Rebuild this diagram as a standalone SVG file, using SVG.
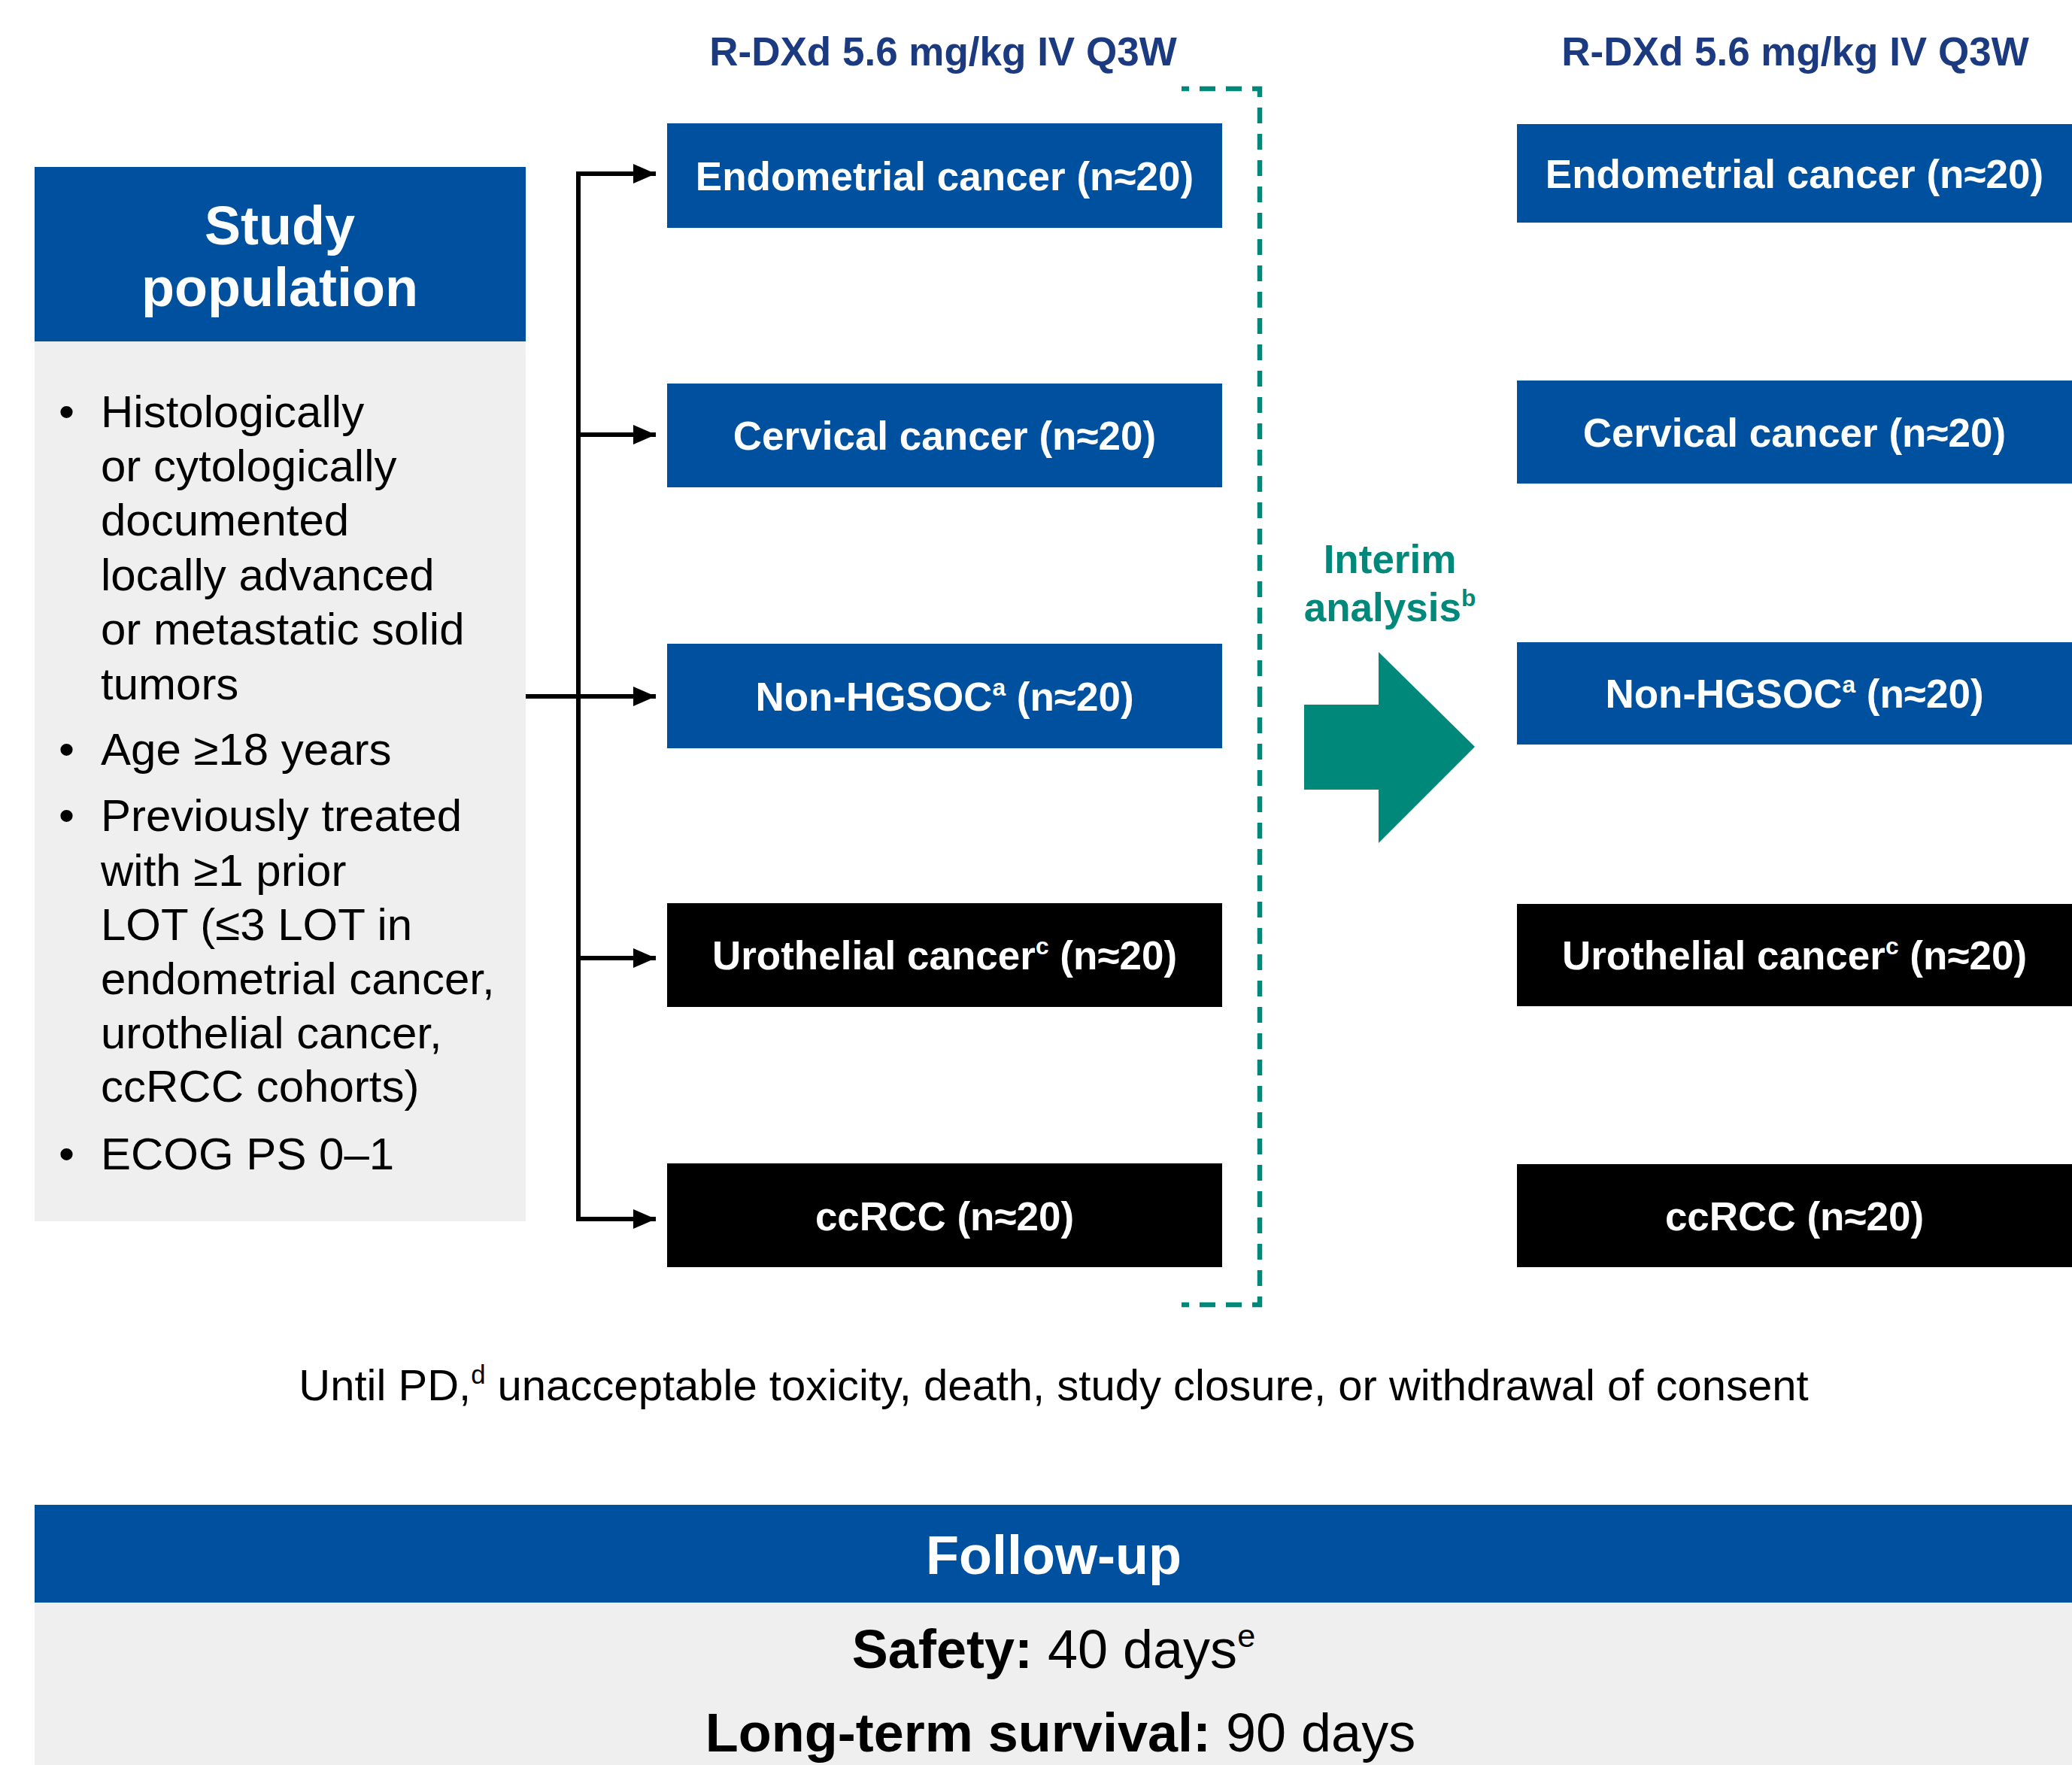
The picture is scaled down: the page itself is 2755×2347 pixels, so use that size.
<svg xmlns="http://www.w3.org/2000/svg" width="2755" height="2347" viewBox="0 0 2755 2347">
<defs>
<style>
text{font-family:"Liberation Sans",Arial,sans-serif}
.hdr{fill:#0050A0}
.grey{fill:#EFEFEF}
.blk{fill:#000}
.bt{font-size:53px;font-weight:bold;fill:#fff;text-anchor:middle}
.ttl{font-size:53px;font-weight:bold;fill:#1B3A80;text-anchor:middle}
.bul{font-size:60px;fill:#000}
.sup{font-size:60%}
.teal{fill:#00897B}
.conn{stroke:#000;stroke-width:6;fill:none}
.dash{fill:none;stroke:#00897B;stroke-width:6.5;stroke-dasharray:21 14;stroke-dashoffset:11}
</style>
<marker id="ah" markerUnits="userSpaceOnUse" markerWidth="32" markerHeight="26" refX="30" refY="13" orient="auto">
<path d="M0,0 L30,13 L0,26 Z" fill="#000"/>
</marker>
</defs>
<rect width="2755" height="2347" fill="#fff"/>

<g id="titles">
<text class="ttl" x="1254" y="87">R-DXd 5.6 mg/kg IV Q3W</text>
<text class="ttl" x="2387" y="87">R-DXd 5.6 mg/kg IV Q3W</text>
</g>

<g id="study-population">
<rect class="hdr" x="46" y="222" width="653" height="232"/>
<rect class="grey" x="46" y="454" width="653" height="1170"/>
<text x="372" y="325" font-size="72" font-weight="bold" fill="#fff" text-anchor="middle">Study</text>
<text x="372" y="407" font-size="72" font-weight="bold" fill="#fff" text-anchor="middle">population</text>
<g class="bul">
<text x="78" y="568">•</text>
<text x="134" y="568">Histologically</text>
<text x="134" y="640">or cytologically</text>
<text x="134" y="712">documented</text>
<text x="134" y="785">locally advanced</text>
<text x="134" y="857">or metastatic solid</text>
<text x="134" y="930">tumors</text>
<text x="78" y="1017">•</text>
<text x="134" y="1017">Age ≥18 years</text>
<text x="78" y="1105">•</text>
<text x="134" y="1105">Previously treated</text>
<text x="134" y="1178">with ≥1 prior</text>
<text x="134" y="1250">LOT (≤3 LOT in</text>
<text x="134" y="1322">endometrial cancer,</text>
<text x="134" y="1394">urothelial cancer,</text>
<text x="134" y="1465">ccRCC cohorts)</text>
<text x="78" y="1555">•</text>
<text x="134" y="1555">ECOG PS 0–1</text>
</g>
</g>

<g id="connectors">
<path class="conn" d="M769,231 V1621"/>
<path class="conn" d="M766,231 H872" marker-end="url(#ah)"/>
<path class="conn" d="M769,578 H872" marker-end="url(#ah)"/>
<path class="conn" d="M699,926 H872" marker-end="url(#ah)"/>
<path class="conn" d="M769,1274 H872" marker-end="url(#ah)"/>
<path class="conn" d="M766,1621 H872" marker-end="url(#ah)"/>
<path class="dash" d="M1571,118 H1675 V927"/>
<path class="dash" d="M1571,1735 H1675 V927"/>
</g>

<g id="left-endometrial">
<rect class="hdr" x="887" y="164" width="738" height="139"/>
<text class="bt" x="1256" y="253">Endometrial cancer (n≈20)</text>
</g>
<g id="left-cervical">
<rect class="hdr" x="887" y="510" width="738" height="138"/>
<text class="bt" x="1256" y="598">Cervical cancer (n≈20)</text>
</g>
<g id="left-nonhgsoc">
<rect class="hdr" x="887" y="856" width="738" height="139"/>
<text class="bt" x="1256" y="945">Non-HGSOC<tspan class="sup" dy="-20">a</tspan><tspan dy="20"> (n≈20)</tspan></text>
</g>
<g id="left-urothelial">
<rect class="blk" x="887" y="1201" width="738" height="138"/>
<text class="bt" x="1256" y="1289">Urothelial cancer<tspan class="sup" dy="-20">c</tspan><tspan dy="20"> (n≈20)</tspan></text>
</g>
<g id="left-ccrcc">
<rect class="blk" x="887" y="1547" width="738" height="138"/>
<text class="bt" x="1256" y="1636">ccRCC (n≈20)</text>
</g>

<g id="interim-analysis">
<text x="1848" y="762" font-size="53" font-weight="bold" fill="#00897B" text-anchor="middle">Interim</text>
<text x="1848" y="826" font-size="53" font-weight="bold" fill="#00897B" text-anchor="middle">analysis<tspan class="sup" dy="-20">b</tspan></text>
<polygon class="teal" points="1734,937 1833,937 1833,867 1961,993 1833,1121 1833,1050 1734,1050"/>
</g>

<g id="right-endometrial">
<rect class="hdr" x="2017" y="165" width="738" height="131"/>
<text class="bt" x="2386" y="250">Endometrial cancer (n≈20)</text>
</g>
<g id="right-cervical">
<rect class="hdr" x="2017" y="506" width="738" height="137"/>
<text class="bt" x="2386" y="594">Cervical cancer (n≈20)</text>
</g>
<g id="right-nonhgsoc">
<rect class="hdr" x="2017" y="854" width="738" height="136"/>
<text class="bt" x="2386" y="941">Non-HGSOC<tspan class="sup" dy="-20">a</tspan><tspan dy="20"> (n≈20)</tspan></text>
</g>
<g id="right-urothelial">
<rect class="blk" x="2017" y="1202" width="738" height="136"/>
<text class="bt" x="2386" y="1289">Urothelial cancer<tspan class="sup" dy="-20">c</tspan><tspan dy="20"> (n≈20)</tspan></text>
</g>
<g id="right-ccrcc">
<rect class="blk" x="2017" y="1548" width="738" height="137"/>
<text class="bt" x="2386" y="1636">ccRCC (n≈20)</text>
</g>

<g id="until-note">
<text x="1401" y="1862" font-size="58" fill="#000" text-anchor="middle">Until PD,<tspan class="sup" dy="-22">d</tspan><tspan dy="22"> unacceptable toxicity, death, study closure, or withdrawal of consent</tspan></text>
</g>

<g id="follow-up">
<rect class="hdr" x="46" y="2001" width="2709" height="130"/>
<rect class="grey" x="46" y="2131" width="2709" height="216"/>
<text x="1401" y="2093" font-size="72" font-weight="bold" fill="#fff" text-anchor="middle">Follow-up</text>
<text x="1401" y="2218" font-size="72" fill="#000" text-anchor="middle"><tspan font-weight="bold">Safety:</tspan> 40 days<tspan class="sup" dy="-28">e</tspan></text>
<text x="1410" y="2329" font-size="72" fill="#000" text-anchor="middle"><tspan font-weight="bold">Long-term survival:</tspan> 90 days</text>
</g>
</svg>
